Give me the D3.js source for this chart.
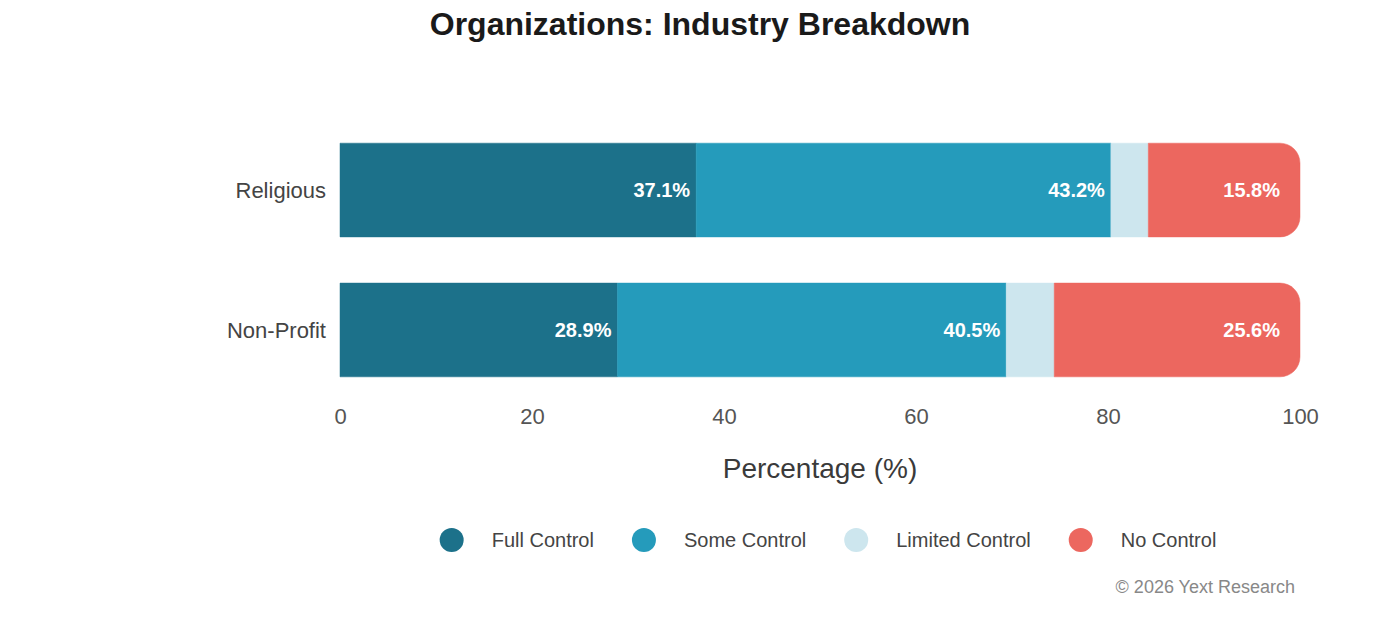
<!DOCTYPE html>
<html>
<head>
<meta charset="utf-8">
<script src="https://cdn.jsdelivr.net/npm/d3@7"></script>
<style>
  body { margin: 0; background: #fff; font-family: "Liberation Sans", Arial, sans-serif; }
</style>
</head>
<body>
<svg id="chart"></svg>
<script>
const categories = ['Religious', 'Non-Profit'];
const seriesNames = ['Full Control', 'Some Control', 'Limited Control', 'No Control'];
const fullControl = [37.1, 28.9];
const someControl = [43.2, 40.5];
const limitedControl = [3.9, 5.0];
const noControl = [15.8, 25.6];
const colors = ['#1c718a', '#259bbb', '#cde6ee', '#ec675f'];
const xTicks = [0, 20, 40, 60, 80, 100];

const width = 1400, height = 620;
const margin = {left: 340, right: 100};

const svg = d3.select('#chart').attr('width', width).attr('height', height);

const rows = categories.map((c, i) => ({
    category: c,
    values: [fullControl[i], someControl[i], limitedControl[i], noControl[i]]
}));

const xscale = d3.scaleLinear().domain([0, 100]).range([margin.left, width - margin.right]);
const yscale = d3.scaleBand().domain(categories).range([97, 423]).padding(0.33);

// title
svg.append('text')
    .attr('x', width / 2).attr('y', 35)
    .attr('text-anchor', 'middle')
    .style('font-size', '32px').style('font-weight', 'bold').style('fill', '#1a1a1a')
    .text('Organizations: Industry Breakdown');

const radius = 20;
function segPath(x0, x1, y0, h, last) {
    if (!last) return `M${x0},${y0}H${x1}V${y0 + h}H${x0}Z`;
    const r = Math.min(radius, x1 - x0);
    return `M${x0},${y0}H${x1 - r}A${r},${r} 0 0 1 ${x1},${y0 + r}V${y0 + h - r}A${r},${r} 0 0 1 ${x1 - r},${y0 + h}H${x0}Z`;
}

rows.forEach(row => {
    let acc = 0;
    const y0 = yscale(row.category), h = yscale.bandwidth();
    const g = svg.append('g');
    row.values.forEach((v, j) => {
        const x0 = xscale(acc), x1 = xscale(acc + v);
        const last = j === row.values.length - 1;
        g.append('path')
            .attr('d', segPath(x0, x1, y0, h, last))
            .attr('fill', colors[j])
            .attr('stroke', colors[j])
            .attr('stroke-width', 0.5);
        if (v >= 8) {
            g.append('text')
                .attr('x', x1 - (last ? 20 : 6))
                .attr('y', y0 + h / 2)
                .attr('dy', '0.35em')
                .attr('text-anchor', 'end')
                .style('font-size', '20px').style('font-weight', 'bold').style('fill', '#fff')
                .text(v.toFixed(1) + '%');
        }
        acc += v;
    });
    svg.append('text')
        .attr('x', margin.left - 14)
        .attr('y', y0 + h / 2)
        .attr('dy', '0.35em')
        .attr('text-anchor', 'end')
        .style('font-size', '22px').style('fill', '#444')
        .text(row.category);
});

// x axis
const xaxis = d3.axisBottom(xscale).tickValues(xTicks).tickSize(0).tickPadding(0);
const xg = svg.append('g').attr('transform', 'translate(0, 408)').call(xaxis);
xg.select('.domain').remove();
xg.selectAll('text')
    .style('font-size', '22px').style('fill', '#555')
    .style('font-family', '"Liberation Sans", Arial, sans-serif');

svg.append('text')
    .attr('x', xscale(50)).attr('y', 478)
    .attr('text-anchor', 'middle')
    .style('font-size', '28px').style('fill', '#3a3a3a')
    .text('Percentage (%)');

// legend
const legend = svg.append('g');
let lx = 0;
seriesNames.forEach((name, i) => {
    const it = legend.append('g').attr('transform', `translate(${lx},0)`);
    it.append('circle').attr('cx', 0).attr('cy', 0).attr('r', 12).attr('fill', colors[i]);
    const t = it.append('text')
        .attr('x', 40).attr('y', 0).attr('dy', '0.35em')
        .style('font-size', '20px').style('fill', '#444')
        .text(name);
    const w = t.node().getComputedTextLength();
    lx += 40 + w + 50;
});
const legendWidth = lx - 50 + 12;
legend.attr('transform', `translate(${828 - legendWidth / 2 + 12}, 540)`);

svg.append('text')
    .attr('x', 1295).attr('y', 593)
    .attr('text-anchor', 'end')
    .style('font-size', '18px').style('fill', '#888')
    .text('\u00a9 2026 Yext Research');
</script>
</body>
</html>
